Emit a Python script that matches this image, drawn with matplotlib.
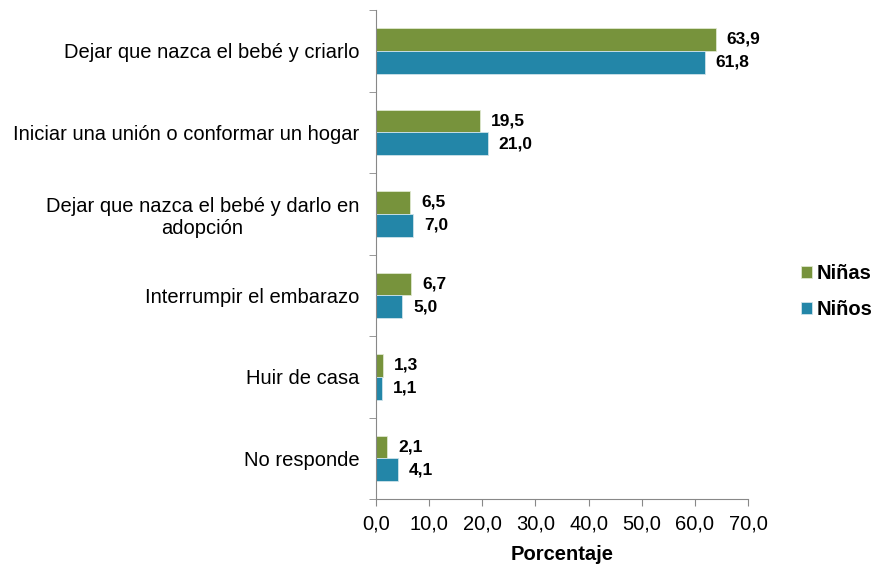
import numpy as np
import matplotlib.pyplot as plt
from matplotlib.ticker import FuncFormatter

plt.rcParams['font.family'] = ['Liberation Sans', 'DejaVu Sans']

categorias = [
    'Dejar que nazca el bebé y criarlo',
    'Iniciar una unión o conformar un hogar',
    'Dejar que nazca el bebé y darlo en\nadopción',
    'Interrumpir el embarazo',
    'Huir de casa',
    'No responde',
]
ninas = [63.9, 19.5, 6.5, 6.7, 1.3, 2.1]
ninos = [61.8, 21.0, 7.0, 5.0, 1.1, 4.1]

verde = '#77933C'
azul = '#2386A8'

fig = plt.figure(figsize=(8.72, 5.64), dpi=100)
ax = fig.add_axes([0.431, 0.115, 0.427, 0.867])

y = np.arange(len(categorias))
h = 0.28
b1 = ax.barh(y - h / 2, ninas, height=h, color=verde, edgecolor='#dfe8cf', linewidth=0.6, label='Niñas')
b2 = ax.barh(y + h / 2, ninos, height=h, color=azul, edgecolor='#cfe3ea', linewidth=0.6, label='Niños')

fmt = lambda v: f'{v:.1f}'.replace('.', ',')
for bars, vals in ((b1, ninas), (b2, ninos)):
    for r, v in zip(bars, vals):
        ax.annotate(fmt(v), (r.get_width(), r.get_y() + r.get_height() / 2),
                    xytext=(8, 0), textcoords='offset points', va='center', ha='left',
                    fontsize=12.5, fontweight='bold')

ax.set_xlim(0, 70)
ax.set_ylim(len(categorias) - 0.5, -0.5)
ax.set_xticks(np.arange(0, 71, 10))
ax.xaxis.set_major_formatter(FuncFormatter(lambda v, p: fmt(v)))
ax.tick_params(axis='x', labelsize=14.5, color='#888888', length=5, pad=6)

ax.set_yticks(y)
ax.set_yticklabels(categorias, fontsize=14.5, multialignment='center')
ax.tick_params(axis='y', which='major', length=0, pad=12)
ax.set_yticks(np.arange(-0.5, len(categorias)), minor=True)
ax.tick_params(axis='y', which='minor', length=5, color='#888888')

for s in ('top', 'right'):
    ax.spines[s].set_visible(False)
for s in ('left', 'bottom'):
    ax.spines[s].set_color('#888888')

ax.set_xlabel('Porcentaje', fontsize=14.5, fontweight='bold', labelpad=8)

fig.legend(handles=[b1, b2], loc='center left', bbox_to_anchor=(0.912, 0.483),
           frameon=False, prop={'size': 14.5, 'weight': 'bold'},
           handlelength=0.55, handleheight=0.55, handletextpad=0.2, labelspacing=0.85,
           borderpad=0.3, borderaxespad=0)

fig.savefig('out.png', dpi=100)
